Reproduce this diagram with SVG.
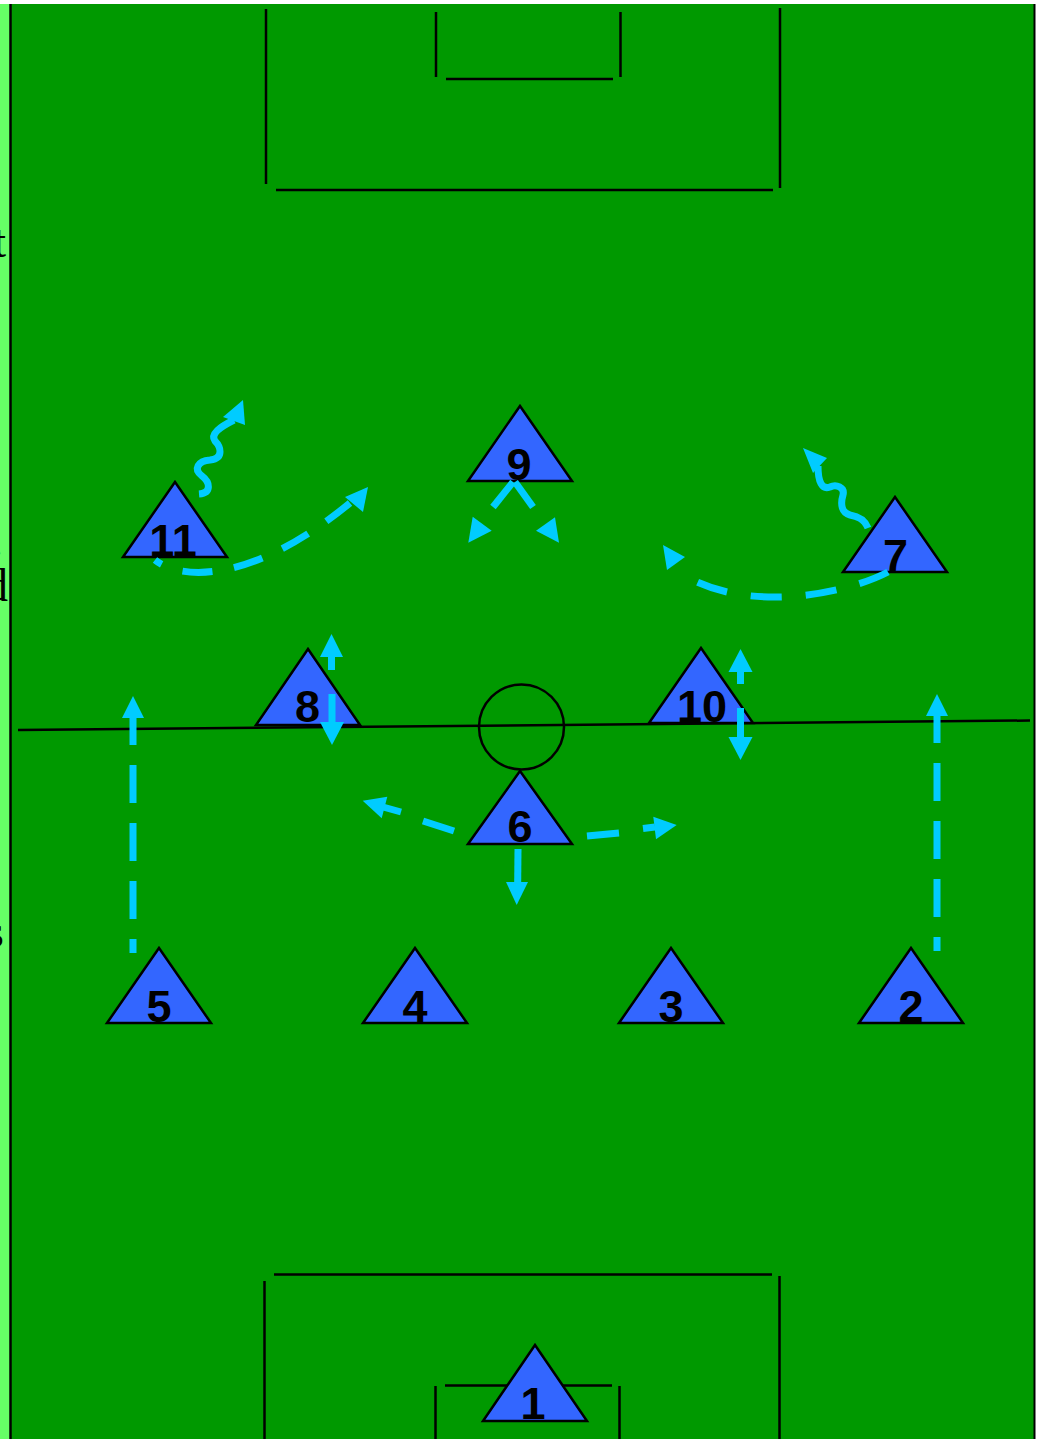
<svg xmlns="http://www.w3.org/2000/svg" width="1038" height="1439" viewBox="0 0 1038 1439">
<defs>
<style>
.pl{stroke:#000;stroke-width:2.5;fill:none}
.tri{fill:#3366ff;stroke:#000;stroke-width:2.5;stroke-linejoin:miter}
.num{font-family:"Liberation Sans",Arial,sans-serif;font-weight:bold;font-size:45px;fill:#000;text-anchor:middle}
.frag{font-family:"Liberation Serif","Times New Roman",serif;font-size:46px;fill:#000;text-anchor:end}
.ln{stroke:#00ccff;stroke-width:7;fill:none;stroke-linecap:butt}
.dash{stroke-dasharray:30 22}
.hd{fill:#00ccff}
</style>
</defs>
<rect x="0" y="0" width="1038" height="1439" fill="#fff"/>
<rect x="0" y="4" width="11" height="1435" fill="#66ff66"/>
<rect x="11" y="4" width="1024" height="1435" fill="#009900"/>
<line x1="10.5" y1="4" x2="10.5" y2="1439" stroke="#000" stroke-width="2.5"/>
<line x1="1034.5" y1="4" x2="1034.5" y2="1439" stroke="#000" stroke-width="2"/>
<g id="labels">
<text class="frag" x="6" y="257">t</text>
<text class="frag" x="3" y="556">.</text>
<text class="frag" x="8" y="601">d</text>
<text class="frag" x="4" y="947">s</text>
</g>
<g id="pitch">
<line class="pl" x1="266" y1="9" x2="266" y2="184"/>
<line class="pl" x1="780" y1="8" x2="780" y2="188"/>
<line class="pl" x1="276" y1="190" x2="773" y2="190"/>
<line class="pl" x1="436" y1="12" x2="436" y2="77"/>
<line class="pl" x1="620.5" y1="12" x2="620.5" y2="77"/>
<line class="pl" x1="446" y1="79" x2="613" y2="79"/>
<line class="pl" x1="18" y1="730" x2="1030" y2="720.5"/>
<circle class="pl" cx="521.5" cy="727" r="42.5"/>
<line class="pl" x1="274" y1="1274.5" x2="772" y2="1274.5"/>
<line class="pl" x1="264.5" y1="1281" x2="264.5" y2="1439"/>
<line class="pl" x1="779.5" y1="1276" x2="779.5" y2="1439"/>
<line class="pl" x1="445" y1="1385.5" x2="612" y2="1385.5"/>
<line class="pl" x1="435.5" y1="1386" x2="435.5" y2="1439"/>
<line class="pl" x1="619.5" y1="1386" x2="619.5" y2="1439"/>
</g>
<g id="node-11"><polygon class="tri" points="175,482 227,557 123,557"/><text class="num" x="173" y="556">11</text></g>
<g id="node-9"><polygon class="tri" points="520,406 572,481 468,481"/><text class="num" x="519" y="480">9</text></g>
<g id="node-7"><polygon class="tri" points="895,497 947,572 843,572"/><text class="num" x="895.5" y="571">7</text></g>
<g id="node-8"><polygon class="tri" points="308,649 360,725 256,725"/><text class="num" x="307.5" y="722">8</text></g>
<g id="node-10"><polygon class="tri" points="701,648 753,723 649,723"/><text class="num" x="702" y="722">10</text></g>
<g id="node-6"><polygon class="tri" points="520,771 572,844 468,844"/><text class="num" x="520" y="842">6</text></g>
<g id="node-5"><polygon class="tri" points="159,948 211,1023 107,1023"/><text class="num" x="159" y="1022">5</text></g>
<g id="node-4"><polygon class="tri" points="415,948 467,1023 363,1023"/><text class="num" x="415" y="1022">4</text></g>
<g id="node-3"><polygon class="tri" points="671,948 723,1023 619,1023"/><text class="num" x="671" y="1022">3</text></g>
<g id="node-2"><polygon class="tri" points="911,948 963,1023 859,1023"/><text class="num" x="911" y="1022">2</text></g>
<g id="node-1"><polygon class="tri" points="535,1345 587,1421 483,1421"/><text class="num" x="533" y="1419">1</text></g>
<g id="connectors">
<path class="ln" d="M199,494 C212,493 210,482 202,476 C193,469 198,461 210,460 C225,458 220,446 215,441 C210,434 220,427 234,420"/>
<polygon class="hd" points="243,400 223,417 245,425"/>
<path class="ln dash" d="M155,560 C180,580 250,585 350,503" stroke-dashoffset="22"/>
<polygon class="hd" points="368,487 345,497 363,512"/>
<line class="ln" x1="493" y1="507" x2="513" y2="482"/>
<line class="ln" x1="515" y1="482" x2="533" y2="507"/>
<polygon class="hd" points="472.7,516.7 491.7,530.7 468.3,542.7"/>
<polygon class="hd" points="555,517.3 536,530.7 559,542.7"/>
<path class="ln" d="M868,528 C864,518 856,516 850,515 C842,513 840,505 843,495 C845,487 836,484 830,487 C822,490 818,482 818,466"/>
<polygon class="hd" points="803,448 827,458 813,473"/>
<path class="ln" d="M888,572 C850,592 760,612 695,581" stroke-dasharray="31 24"/>
<polygon class="hd" points="663,545 685,557 667,570"/>
<line class="ln" x1="331.5" y1="657" x2="331.5" y2="670" stroke-width="8"/>
<polygon class="hd" points="331.5,634 343,657 320,657"/>
<line class="ln" x1="332" y1="694" x2="332" y2="722" stroke-width="8"/>
<polygon class="hd" points="320,722 344,722 332,745"/>
<line class="ln" x1="740.5" y1="672" x2="740.5" y2="684" stroke-width="8"/>
<polygon class="hd" points="740.5,649 752.5,672 728.5,672"/>
<line class="ln" x1="740.5" y1="708" x2="740.5" y2="737" stroke-width="8"/>
<polygon class="hd" points="728.5,737 752.5,737 740.5,760"/>
<line class="ln" x1="454" y1="831" x2="423" y2="821"/>
<line class="ln" x1="401" y1="812" x2="383" y2="807"/>
<polygon class="hd" points="362.7,800.7 387.3,796.7 381.7,818.3"/>
<line class="ln" x1="587" y1="836" x2="619" y2="833"/>
<line class="ln" x1="643" y1="828.5" x2="655" y2="827"/>
<polygon class="hd" points="676.7,825 653.3,816.7 656,839.3"/>
<line class="ln" x1="518" y1="849" x2="517.7" y2="882"/>
<polygon class="hd" points="506,882 528,882 516.7,905"/>
<line class="ln" x1="133" y1="953" x2="133" y2="718" stroke-dasharray="14 20 38 20 38 20 38 20 38 20 38"/>
<polygon class="hd" points="133,696 144,718 122,718"/>
<line class="ln" x1="937" y1="951" x2="937" y2="716" stroke-dasharray="14 20 38 20 38 20 38 20 38 20 38"/>
<polygon class="hd" points="937,694 948,716 926,716"/>
</g>
</svg>
